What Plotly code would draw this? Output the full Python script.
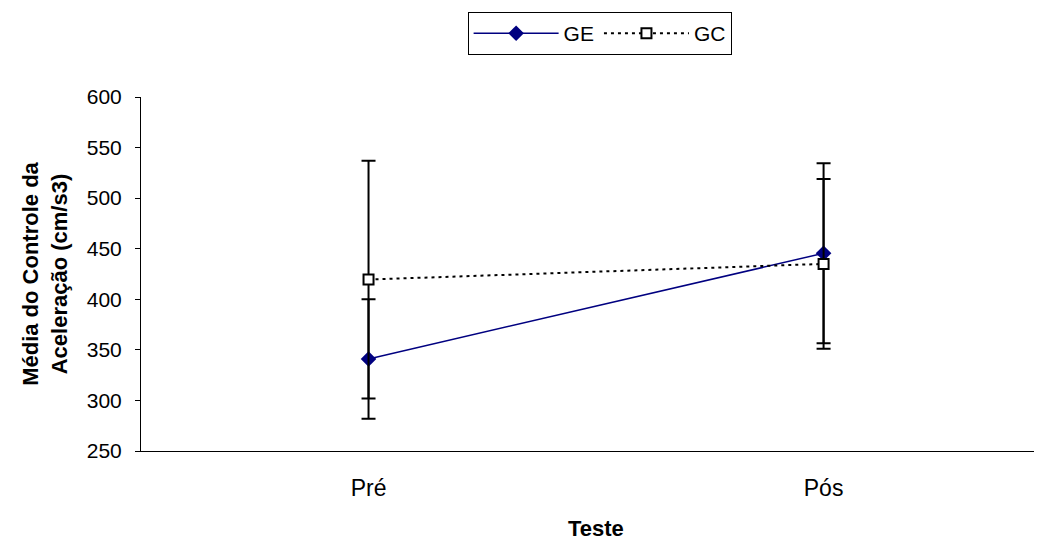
import plotly.graph_objects as go

categories = ["Pré", "Pós"]
ge_mean = [341, 445.5]
ge_err = [59, 89]
gc_mean = [419.5, 435]
gc_err = [117.5, 84]
y_ticks = [250, 300, 350, 400, 450, 500, 550, 600]

font_family = "Liberation Sans, Arial, sans-serif"

fig = go.Figure()
fig.add_trace(go.Scatter(
    x=[0, 1], y=ge_mean, name="GE", mode="lines+markers",
    line=dict(color="#000080", width=1.5),
    marker=dict(symbol="diamond", size=12, color="#000080"),
    error_y=dict(type="data", array=ge_err, visible=True, color="black", thickness=2, width=7),
))
fig.add_trace(go.Scatter(
    x=[0, 1], y=gc_mean, name="GC", mode="lines+markers",
    line=dict(color="black", width=2, dash="3px,4px"),
    marker=dict(symbol="square", size=10, color="white", line=dict(color="black", width=2)),
    error_y=dict(type="data", array=gc_err, visible=True, color="black", thickness=2, width=7),
))

fig.update_layout(
    width=1034, height=533,
    paper_bgcolor="white", plot_bgcolor="white",
    margin=dict(l=133, r=0, t=89, b=90, autoexpand=False),
    font=dict(family=font_family, size=20, color="black"),
    showlegend=True,
    legend=dict(
        orientation="h", x=0.509, xanchor="center", y=1.24, yanchor="top",
        bordercolor="black", borderwidth=1, font=dict(size=21),
        itemwidth=85,
    ),
    xaxis=dict(
        range=[-0.5, 1.48], tickvals=[0, 1], ticktext=categories,
        showline=True, linecolor="black", linewidth=1, showgrid=False, zeroline=False,
        ticks="", tickfont=dict(size=23), ticklabelstandoff=16, automargin=False,
    ),
    yaxis=dict(
        range=[250, 600], tickvals=y_ticks,
        showline=True, linecolor="black", linewidth=1, showgrid=False, zeroline=False,
        ticks="outside", ticklen=5, tickcolor="black", tickfont=dict(size=21),
        ticklabelstandoff=9, automargin=False,
        title=dict(text="<b>Média do Controle da<br>Aceleração (cm/s3)</b>", font=dict(size=22), standoff=13),
    ),
    annotations=[dict(
        text="<b>Teste</b>", xref="paper", yref="paper", x=0.505, y=0,
        xanchor="center", yanchor="middle", yshift=-77, showarrow=False,
        font=dict(size=22),
    )],
)

fig.write_html("out.html")
